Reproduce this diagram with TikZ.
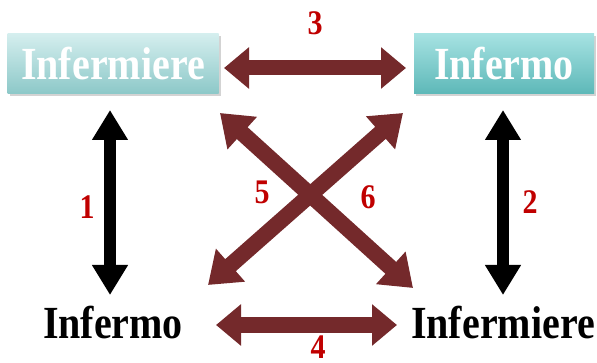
\documentclass[tikz,border=0pt]{standalone}
\usepackage{fontspec}
\usepackage{graphicx}
\setmainfont{Liberation Serif}
\usetikzlibrary{arrows.meta,shadows}
\definecolor{arrred}{HTML}{74292B}
\definecolor{numred}{HTML}{C00000}
\definecolor{tealA}{HTML}{D4EEEE}
\definecolor{tealB}{HTML}{8CC8C8}
\definecolor{tealC}{HTML}{A6E2E2}
\definecolor{tealD}{HTML}{5DB8B8}
\newcommand{\tallt}[1]{\scalebox{1}[1.15]{#1}}
\tikzset{
  box/.style={rectangle, minimum height=60pt, inner sep=0pt, text=white,
    font=\bfseries\fontsize{40}{46}\selectfont,
    drop shadow={opacity=0.35, shadow xshift=2pt, shadow yshift=-2pt}},
  plain/.style={inner sep=0pt, text=black, font=\bfseries\fontsize{40}{46}\selectfont},
  num/.style={inner sep=0pt, text=numred, font=\bfseries\fontsize{30}{34}\selectfont},
  redarr/.style={draw=arrred, line width=15pt,
    {Triangle[width=40pt,length=25pt]}-{Triangle[width=40pt,length=25pt]}},
  diagarr/.style={draw=arrred, line width=16pt,
    {Triangle[width=42pt,length=30pt]}-{Triangle[width=42pt,length=30pt]}},
  blkarr/.style={draw=black, line width=12pt,
    {Triangle[width=34pt,length=30pt]}-{Triangle[width=34pt,length=30pt]}}
}
\begin{document}
\begin{tikzpicture}[x=1pt,y=-1pt]
\useasboundingbox (0,0) rectangle (597,363);
% boxes
\node[box, minimum width=211pt, top color=tealA, bottom color=tealB] (boxL) at (113,64) {\tallt{Infermiere}};
\node[box, minimum width=180pt, top color=tealC, bottom color=tealD] (boxR) at (504,64) {\tallt{Infermo}};
% bottom words
\node[plain, anchor=base] (txtL) at (113,338) {\tallt{Infermo}};
\node[plain, anchor=base] (txtR) at (503,338) {\tallt{Infermiere}};
% arrow endpoints
\coordinate (a3l) at (224,68);
\coordinate (a3r) at (406,68);
\coordinate (a1t) at (110,110);
\coordinate (a1b) at (110,295);
\coordinate (a2t) at (503,110);
\coordinate (a2b) at (503,295);
\coordinate (a4l) at (216,325);
\coordinate (a4r) at (397,325);
\coordinate (d1a) at (220,113);
\coordinate (d1b) at (413,288);
\coordinate (d2a) at (403,113);
\coordinate (d2b) at (208,285);
% arrows
\draw[redarr] (a3l) -- (a3r);
\draw[redarr] (a4l) -- (a4r);
\draw[blkarr] (a1t) -- (a1b);
\draw[blkarr] (a2t) -- (a2b);
\draw[diagarr] (d1a) -- (d1b);
\draw[diagarr] (d2b) -- (d2a);
% numbers
\node[num] (n3) at (315,23) {\tallt{3}};
\node[num] (n1) at (87,207) {\tallt{1}};
\node[num] (n2) at (530,202) {\tallt{2}};
\node[num] (n5) at (262,192) {\tallt{5}};
\node[num] (n6) at (368,197) {\tallt{6}};
\node[num] (n4) at (318,347) {\tallt{4}};
\end{tikzpicture}
\end{document}
